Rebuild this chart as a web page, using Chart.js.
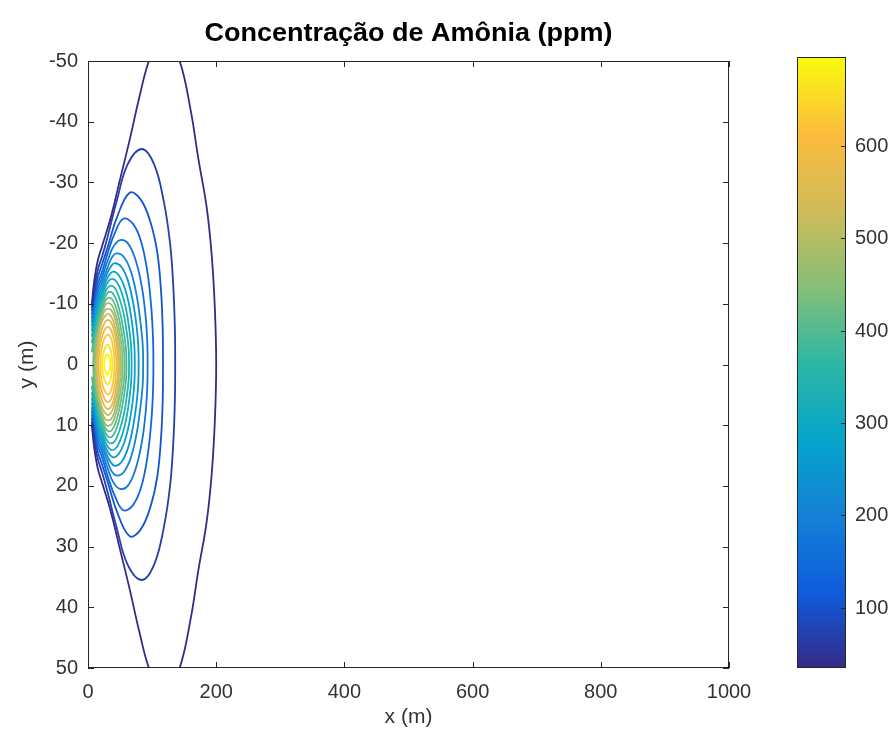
<!DOCTYPE html>
<html>
<head>
<meta charset="utf-8">
<script src="https://cdn.jsdelivr.net/npm/chart.js@4.4.1/dist/chart.umd.min.js"></script>
<style>
  html, body { margin: 0; padding: 0; background: #fff; }
</style>
</head>
<body>
<canvas id="chart" width="892" height="745"></canvas>
<script>
// Chart text and ticks
const chartTitle = 'Concentração de Amônia (ppm)';
const xLabel = 'x (m)';
const yLabel = 'y (m)';
const xTicks = [0, 200, 400, 600, 800, 1000];
const yTicks = [-50, -40, -30, -20, -10, 0, 10, 20, 30, 40, 50];
const colorTicks = [100, 200, 300, 400, 500, 600];
const colorMin = 35;
const colorMax = 696;

// contour levels (ppm), outermost first
const levels = [35, 70, 105, 140, 175, 210, 245, 280, 315, 350, 385, 420, 455, 490, 525, 560, 595, 630, 665, 690];

// upper half of each contour as [x, |y|], from its left end round to the centre line
// (the plume is symmetric about y = 0, so the lower half is the same read mirrored)
const c35 = [[6, 10], [10, 14], [15, 17], [22, 19.5], [35, 24], [50, 30.5], [65, 37], [80, 44], [95, 50], [118, 55.5], [143, 50], [160, 42], [172, 34], [185, 26], [193, 18], [198, 9], [200, 0]];
const c70 = [[6, 9.4], [10, 12.6], [15, 15.5], [22, 17.8], [30, 20.8], [45, 27], [62, 33], [84, 35.5], [103, 33], [118, 27], [128, 20], [133, 13], [135.5, 6], [136, 0]];
const c105 = [[6, 8.8], [10, 11.8], [15, 14.3], [22, 16.5], [32, 19.8], [45, 24.2], [65, 28.3], [82, 27.2], [97, 23.6], [108, 18.5], [114, 12], [116.5, 6], [117, 0]];
const c140 = [[6, 8.2], [10, 11], [15, 13.3], [22, 15.3], [32, 18.8], [42, 21.7], [55, 24], [70, 23.2], [83, 20.2], [93, 15], [99, 9], [101.5, 4], [102, 0]];
const c175 = [[6, 7.6], [10, 10.2], [15, 12.4], [22, 14.4], [32, 17.5], [40, 19.5], [50, 20.5], [62, 20], [74, 17.3], [84, 12.8], [90, 7.8], [92.5, 3.6], [93, 0]];
const c210 = [[6, 7], [10, 9.5], [15, 11.6], [22, 13.6], [30, 15.8], [37, 17.6], [45, 18.3], [56, 17.7], [67, 15.3], [76, 11.3], [82, 6.8], [85.4, 3.2], [86, 0]];
const c245 = [[6, 6.3], [10, 8.7], [15, 10.8], [22, 12.8], [30, 15], [36, 16.2], [42, 16.7], [52, 16.1], [62, 13.9], [70, 10.4], [75.8, 6.3], [78.5, 3], [79, 0]];
const c280 = [[6, 5.5], [10, 7.9], [15, 10], [22, 12], [30, 14.2], [39, 15.3], [48, 14.7], [57, 12.7], [64.5, 9.6], [70, 5.8], [72.5, 2.8], [73, 0]];
const c315 = [[6, 4.6], [10, 7], [15, 9.2], [22, 11.3], [30, 13.4], [37, 14.1], [45, 13.6], [53, 11.7], [60, 8.8], [65, 5.3], [67.5, 2.6], [68, 0]];
const c350 = [[6, 3.5], [10, 6.1], [15, 8.4], [22, 10.6], [29, 12.4], [35, 13], [42, 12.6], [49, 10.9], [56, 8.2], [61, 4.9], [63.5, 2.4], [64, 0]];
const c385 = [[6, 2], [10, 5], [15, 7.5], [22, 9.8], [28, 11.4], [33, 12], [39, 11.7], [46, 10.1], [52, 7.6], [57, 4.6], [59.5, 2.2], [60, 0]];
const c420 = [[8, 0], [10, 3.6], [15, 6.6], [22, 9.1], [27, 10.5], [32, 11], [38, 10.7], [44, 9.3], [49.5, 7], [54, 4.2], [56.5, 2], [57, 0]];
const c455 = [[9, 0], [11, 3.5], [15, 6], [22, 8.6], [27, 9.8], [31, 10.1], [37, 9.8], [42, 8.6], [47, 6.6], [51.3, 3.9], [53.6, 1.8], [54, 0]];
const c490 = [[10.5, 0], [12.5, 3.4], [16, 5.6], [22, 7.9], [27, 9], [30.5, 9.2], [36, 9], [41, 7.9], [45.5, 6], [49, 3.6], [51.1, 1.7], [51.5, 0]];
const c525 = [[12, 0], [14, 3.2], [18, 5.6], [23, 7.4], [30, 8.3], [35, 8.1], [40, 7], [44, 5.3], [47, 3.2], [48.7, 1.5], [49, 0]];
const c560 = [[14, 0], [16, 3], [20, 5.2], [25, 6.7], [30, 7.3], [35, 7.1], [40, 5.9], [43.5, 4.2], [46, 2.3], [46.8, 1], [47, 0]];
const c595 = [[16, 0], [18, 2.7], [22, 4.6], [26, 5.7], [30, 6.2], [35, 5.9], [39, 4.8], [42, 3.2], [44, 1.4], [44.5, 0]];
const c630 = [[19, 0], [20.5, 2.2], [24, 3.8], [30, 4.9], [35, 4.5], [38.5, 3.2], [40.8, 1.5], [41.5, 0]];
const c665 = [[22, 0], [23.5, 1.6], [27, 2.8], [31, 3.3], [35, 2.5], [37.3, 1.1], [38, 0]];
const c690 = [[25, 0], [26.5, 1], [30, 1.7], [33, 1.3], [34.6, 0.6], [35, 0]];
const contourHalves = [c35, c70, c105, c140, c175, c210, c245, c280, c315, c350, c385, c420, c455, c490, c525, c560, c595, c630, c665, c690];

// parula colormap stops
const parula = ['#352a87', '#0f5cdd', '#1481d6', '#06a4ca', '#2eb7a4', '#87bf77', '#d1bb59', '#fcbc3d', '#f9fb0e'];

function hexToRgb(h) {
  return [parseInt(h.slice(1, 3), 16), parseInt(h.slice(3, 5), 16), parseInt(h.slice(5, 7), 16)];
}

function parulaAt(value) {
  let t = (value - colorMin) / (colorMax - colorMin);
  t = Math.max(0, Math.min(1, t));
  const pos = t * (parula.length - 1);
  const i = Math.min(Math.floor(pos), parula.length - 2);
  const f = pos - i;
  const a = hexToRgb(parula[i]);
  const b = hexToRgb(parula[i + 1]);
  const c = a.map((v, k) => Math.round(v + (b[k] - v) * f));
  return `rgb(${c[0]}, ${c[1]}, ${c[2]})`;
}

const datasets = levels.map((lv, i) => {
  const half = contourHalves[i];
  const upper = half.map(([x, w]) => ({ x: x, y: -w }));
  const lower = half.slice(0, -1).reverse().map(([x, w]) => ({ x: x, y: w }));
  return {
    label: lv + ' ppm',
    data: upper.concat(lower),
    showLine: true,
    borderColor: parulaAt(lv),
    borderWidth: 1.8,
    pointRadius: 0,
    tension: 0.4,
    fill: false
  };
});

const fontFamily = 'Liberation Sans, Arial, sans-serif';
const axisColor = '#262626';
const textColor = '#333';
const tickFont = { family: fontFamily, size: 20 };

// title centred over the axes box
const titleDraw = {
  id: 'titleDraw',
  afterDraw(chart) {
    const { ctx, chartArea: a } = chart;
    ctx.save();
    ctx.font = `bold 25px ${fontFamily}`;
    ctx.fillStyle = '#000';
    ctx.textAlign = 'center';
    ctx.textBaseline = 'alphabetic';
    ctx.translate((a.left + a.right) / 2, 41);
    ctx.scale(1.08, 1);
    ctx.fillText(chartTitle, 0, 0);
    ctx.restore();
  }
};

// box round the axes with inward ticks, like MATLAB
const frame = {
  id: 'frame',
  afterDatasetsDraw(chart) {
    const { ctx, chartArea: a, scales } = chart;
    ctx.save();
    ctx.strokeStyle = axisColor;
    ctx.lineWidth = 1;
    ctx.strokeRect(a.left + 0.5, a.top + 0.5, a.right - a.left - 1, a.bottom - a.top - 1);
    ctx.beginPath();
    xTicks.forEach(v => {
      const px = Math.round(scales.x.getPixelForValue(v)) + 0.5;
      ctx.moveTo(px, a.bottom); ctx.lineTo(px, a.bottom - 6);
      ctx.moveTo(px, a.top); ctx.lineTo(px, a.top + 6);
    });
    yTicks.forEach(v => {
      const py = Math.round(scales.y.getPixelForValue(v)) + 0.5;
      ctx.moveTo(a.left, py); ctx.lineTo(a.left + 6, py);
      ctx.moveTo(a.right, py); ctx.lineTo(a.right - 6, py);
    });
    ctx.stroke();
    ctx.restore();
  }
};

// colour bar on the right
const colorbar = {
  id: 'colorbar',
  afterDraw(chart) {
    const { ctx } = chart;
    const left = 797, right = 846, top = 57, bottom = 668;
    ctx.save();
    const grad = ctx.createLinearGradient(0, bottom, 0, top);
    parula.forEach((c, i) => grad.addColorStop(i / (parula.length - 1), c));
    ctx.fillStyle = grad;
    ctx.fillRect(left, top, right - left, bottom - top);
    ctx.strokeStyle = axisColor;
    ctx.lineWidth = 1;
    ctx.strokeRect(left + 0.5, top + 0.5, right - left - 1, bottom - top - 1);
    ctx.fillStyle = textColor;
    ctx.font = `${tickFont.size}px ${tickFont.family}`;
    ctx.textAlign = 'left';
    ctx.textBaseline = 'middle';
    ctx.beginPath();
    colorTicks.forEach(v => {
      const py = Math.round(bottom - (v - colorMin) / (colorMax - colorMin) * (bottom - top)) + 0.5;
      ctx.moveTo(right - 5, py); ctx.lineTo(right, py);
      ctx.fillText(String(v), right + 9, py);
    });
    ctx.stroke();
    ctx.restore();
  }
};

new Chart(document.getElementById('chart'), {
  type: 'scatter',
  data: { datasets: datasets },
  options: {
    responsive: false,
    animation: false,
    layout: { padding: { left: 0, right: 163, top: 61, bottom: 0 } },
    plugins: {
      legend: { display: false },
      tooltip: { enabled: false },
      title: { display: false }
    },
    scales: {
      x: {
        type: 'linear',
        min: 0,
        max: 1000,
        grid: { display: false, drawTicks: false },
        border: { display: false },
        ticks: { stepSize: 200, padding: 12, color: textColor, font: tickFont, maxRotation: 0, callback: v => String(v) },
        title: { display: true, text: xLabel, color: textColor, font: { family: fontFamily, size: 21 }, padding: { top: 0, bottom: 15 } },
        afterFit: s => { s.height = 77; }
      },
      y: {
        type: 'linear',
        min: -50,
        max: 50,
        reverse: true,
        grid: { display: false, drawTicks: false },
        border: { display: false },
        ticks: { stepSize: 10, padding: 10, color: textColor, font: tickFont, callback: v => String(v) },
        title: { display: true, text: yLabel, color: textColor, font: { family: fontFamily, size: 21 }, padding: { top: 15, bottom: 0 } },
        afterFit: s => { s.width = 88; }
      }
    }
  },
  plugins: [frame, colorbar, titleDraw]
});
</script>
</body>
</html>
